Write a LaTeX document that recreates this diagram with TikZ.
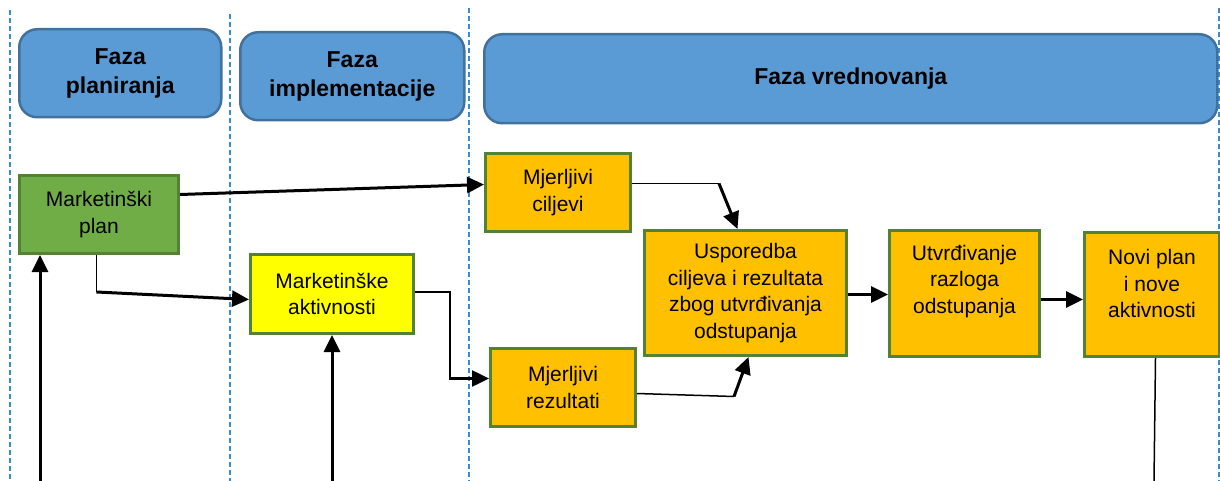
\documentclass[tikz,border=0pt]{standalone}
\usepackage{fontspec}
\setmainfont{Liberation Sans}
\usetikzlibrary{arrows.meta}
\definecolor{hdrfill}{HTML}{5B9BD5}
\definecolor{hdrline}{HTML}{41719C}
\definecolor{grnfill}{HTML}{70AD47}
\definecolor{grnline}{HTML}{548235}
\definecolor{orgfill}{HTML}{FFC000}
\definecolor{ylwfill}{HTML}{FFFF00}
\definecolor{lanecol}{HTML}{3A8BD3}
\begin{document}
\begin{tikzpicture}[x=1pt,y=-1pt,
  hdr/.style={draw=hdrline, line width=2.5pt, fill=hdrfill, rounded corners=18pt,
    align=center, anchor=north west, inner sep=0pt,
    font=\fontsize{23}{29}\selectfont\bfseries},
  box/.style={draw=grnline, line width=3pt, align=center, anchor=north west,
    inner sep=0pt, font=\fontsize{21}{26.5}\selectfont},
  txt/.style={align=center, inner sep=0pt, font=\fontsize{21}{26.5}\selectfont},
  lane/.style={draw=lanecol, line width=1.4pt, dash pattern=on 5pt off 3pt},
  thinln/.style={line width=1.5pt},
  arr/.style={line width=3pt, -{Triangle[length=17pt,width=16pt]}},
]
\useasboundingbox (0,0) rectangle (1220,481);

% lanes
\draw[lane] (10,10) -- (10,481);
\draw[lane] (230,14) -- (230,481);
\draw[lane] (469,8) -- (469,481);
\draw[lane] (1219,8) -- (1219,481);

% headers
\node[hdr, minimum width=202, minimum height=88] (hplan) at (18,28) {Faza\\planiranja};
\node[hdr, minimum width=224, minimum height=88] (himpl) at (239,31) {Faza\\implementacije};
\node[hdr, minimum width=733, minimum height=89] (hvred) at (483,33) {Faza vrednovanja};

% boxes
\node[box, fill=grnfill, minimum width=159, minimum height=78] (plan) at (18,174) {Marketinški\\plan};
\node[box, fill=ylwfill, minimum width=163, minimum height=79] (akt) at (249,253) {Marketinške\\aktivnosti};
\node[box, fill=orgfill, minimum width=145, minimum height=78] (cilj) at (484,152) {Mjerljivi\\ciljevi};
\node[box, fill=orgfill, minimum width=145, minimum height=78] (rez) at (489,347) {Mjerljivi\\rezultati};
\node[box, fill=orgfill, minimum width=202, minimum height=125] (usp) at (643,229) {Usporedba\\ciljeva i rezultata\\zbog utvrđivanja\\odstupanja};
\node[box, fill=orgfill, minimum width=150, minimum height=126] (utv) at (888,229) {};
\node[txt] (utvt) at ([yshift=12pt]utv.center) {Utvrđivanje\\razloga\\odstupanja};
\node[box, fill=orgfill, minimum width=135, minimum height=124] (novi) at (1083,231) {};
\node[txt] (novit) at ([yshift=11pt]novi.center) {Novi plan\\i nove\\aktivnosti};

% free ends
\coordinate (b1) at (40,481);
\coordinate (b2) at (332,481);
\coordinate (b3) at (1154,481);

% connectors
\draw[arr] ([yshift=20pt]plan.east) -- ([yshift=8pt]cilj.west);
\draw[thinln] ([xshift=-2.5pt]plan.south) -- ++(0,37) coordinate (k1);
\draw[arr] (k1) -- ([yshift=-5.5pt]akt.west);
\draw[line width=2.5pt, -{Triangle[length=17pt,width=16pt]}] ([yshift=2pt]akt.east) -| ([xshift=-39pt,yshift=9pt]rez.west) -- ([yshift=9pt]rez.west);
\draw[thinln] ([yshift=9pt]cilj.east) -- ++(87,0) coordinate (k2);
\draw[arr] (k2) -- ([xshift=-8pt]usp.north);
\draw[thinln] ([yshift=-6pt]rez.east) -- ++(97,3) coordinate (k3);
\draw[arr] (k3) -- ([xshift=3pt]usp.south);
\draw[arr] ([yshift=-1.5pt]usp.east) -- ([yshift=-1pt]utv.west);
\draw[arr] ([yshift=-6pt]utv.east) -- ([yshift=-5pt]novi.west);
\draw[thinln] ([xshift=3.5pt]novi.south) -- (b3);
\draw[arr] (b1) -- (b1 |- plan.south);
\draw[arr] (b2) -- (b2 |- akt.south);
\end{tikzpicture}
\end{document}
